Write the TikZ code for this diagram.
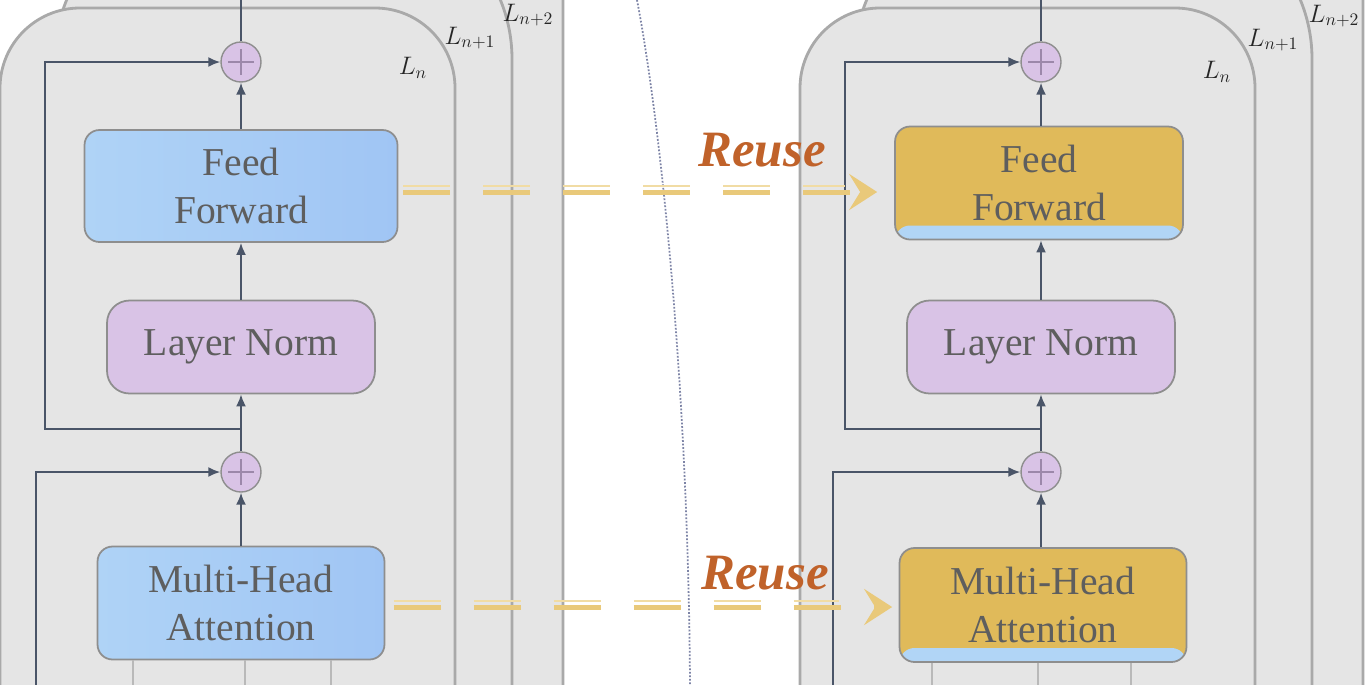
\documentclass[tikz,border=0pt]{standalone}
\usepackage{fontspec}
\setmainfont{Liberation Serif}
\usetikzlibrary{arrows.meta,positioning,calc}
\definecolor{PanelGray}{HTML}{E5E5E5}
\definecolor{PanelEdge}{HTML}{A9A9A9}
\definecolor{SoftBlueA}{HTML}{AFD3F6}
\definecolor{SoftBlueB}{HTML}{A0C5F4}
\definecolor{StripBlue}{HTML}{B1D5F6}
\definecolor{Lavender}{HTML}{D9C3E6}
\definecolor{PlusPurple}{HTML}{9C88AA}
\definecolor{ReuseGold}{HTML}{E0BA5A}
\definecolor{DashGold}{HTML}{E9C97A}
\definecolor{DashLight}{HTML}{F1DCA4}
\definecolor{ReuseBrown}{HTML}{C0622A}
\definecolor{FlowSlate}{HTML}{4A5568}
\definecolor{BoxEdge}{HTML}{8E8E8E}
\definecolor{TextGray}{HTML}{5E5E5E}
\definecolor{DotBlue}{HTML}{7D84A6}

\begin{document}
\begin{tikzpicture}[x=0.02cm,y=-0.02cm,>={Latex[length=0.24cm,width=0.2cm]},
  every node/.style={align=center, text=TextGray},
  panel/.style={fill=PanelGray, draw=PanelEdge, line width=1.6pt},
  block/.style={draw=BoxEdge, line width=1pt, rounded corners=0.3cm, font=\fontsize{22.5}{27}\selectfont, inner sep=0pt},
  newblock/.style={block, left color=SoftBlueA, right color=SoftBlueB},
  oldblock/.style={block, fill=ReuseGold, path picture={\fill[StripBlue] (path picture bounding box.south west) rectangle ([yshift=0.28cm]path picture bounding box.south east);}},
  normblock/.style={block, fill=Lavender, rounded corners=0.45cm, minimum width=5.36cm, minimum height=1.86cm},
  addnode/.style={circle, draw=BoxEdge, fill=Lavender, line width=0.8pt, minimum size=0.8cm, inner sep=0pt,
    path picture={\draw[PlusPurple, line width=0.6pt] ([xshift=-0.26cm]path picture bounding box.center) -- ([xshift=0.26cm]path picture bounding box.center) ([yshift=-0.26cm]path picture bounding box.center) -- ([yshift=0.26cm]path picture bounding box.center);}},
  layerlbl/.style={font=\fontsize{14}{16}\selectfont, text=black!85, inner sep=1pt},
  flow/.style={draw=FlowSlate, line width=1.1pt},
  tapline/.style={draw=gray!55, line width=1pt},
  reuse/.style={draw=DashGold, line width=0.1cm, dash pattern=on 0.94cm off 0.66cm},
  reusethin/.style={draw=DashLight, line width=0.045cm, dash pattern=on 0.94cm off 0.66cm},
  reusetip/.style={-{Stealth[length=0.56cm,width=0.72cm,inset=0.22cm,fill=DashGold]}},
  reusetxt/.style={font=\fontsize{29}{32}\selectfont\bfseries\itshape, text=ReuseBrown}]
\useasboundingbox (0,0) rectangle (1368,684);
\clip (0,0) rectangle (1368,684);
\fill[white] (0,0) rectangle (1368,684);

% stacked layers
\foreach \dx in {0,800} {
  \draw[panel, rounded corners=3cm] (\dx+105,780) -- (\dx+105,-150) -- (\dx+563,-150) -- (\dx+563,780);
  \draw[panel, rounded corners=3.1cm] (\dx+55,780) -- (\dx+55,-96) -- (\dx+512,-96) -- (\dx+512,780);
  \draw[panel, rounded corners=1.6cm] (\dx+0,780) -- (\dx+0,8) -- (\dx+455,8) -- (\dx+455,780);
}
\node[layerlbl] (lnL) at (413,68) {$L_n$};
\node[layerlbl] (lnaL) at (470,38) {$L_{n+1}$};
\node[layerlbl] (lnbL) at (528,15) {$L_{n+2}$};
\node[layerlbl] (lnR) at (1217,72) {$L_n$};
\node[layerlbl] (lnaR) at (1273,40) {$L_{n+1}$};
\node[layerlbl] (lnbR) at (1334,16) {$L_{n+2}$};

% divider
\draw[DotBlue, densely dotted, line width=1pt] (637,0) .. controls (660,120) and (688,380) .. (690,684);

% new layer (left)
\node[addnode] (addTL) at (241,62) {};
\node[newblock, minimum width=6.26cm, minimum height=2.24cm] (ffL) at (241,186) {Feed\\Forward};
\node[normblock] (normL) at (241,347) {Layer Norm};
\node[addnode] (addBL) at (241,472) {};
\node[newblock, minimum width=5.74cm, minimum height=2.26cm] (mhaL) at (241,603) {Multi-Head\\Attention};
\coordinate (resL) at (36,700);

\draw[flow] (addTL.north) -- ++(0,-70);
\draw[flow,->] (ffL.north) -- (addTL.south);
\draw[flow,->] (normL.north) -- (ffL.south);
\draw[flow,->] (addBL.north) -- (normL.south);
\draw[flow,->] (mhaL.north) -- (addBL.south);
\draw[flow,->] ([yshift=0.44cm]addBL.north) -- ++(-196,0) |- (addTL.west);
\draw[flow,->] (resL) |- (addBL.west);
\draw[tapline] ([xshift=-2.16cm]mhaL.south) -- ++(0,40);
\draw[tapline] ([xshift=0.08cm]mhaL.south) -- ++(0,40);
\draw[tapline] ([xshift=1.8cm]mhaL.south) -- ++(0,40);

% reused layer (right)
\node[addnode] (addTR) at (1041,62) {};
\node[oldblock, minimum width=5.76cm, minimum height=2.26cm] (ffR) at (1039,183) {Feed\\Forward};
\node[normblock] (normR) at (1041,347) {Layer Norm};
\node[addnode] (addBR) at (1041,472) {};
\node[oldblock, minimum width=5.74cm, minimum height=2.28cm] (mhaR) at (1043,605) {Multi-Head\\Attention};
\coordinate (resR) at (833,700);

\draw[flow] (addTR.north) -- ++(0,-70);
\draw[flow,->] (addTR.south |- ffR.north) -- (addTR.south);
\draw[flow,->] (normR.north) -- (addTR.south |- ffR.south);
\draw[flow,->] (addBR.north) -- (normR.south);
\draw[flow,->] (addBR.south |- mhaR.north) -- (addBR.south);
\draw[flow,->] ([yshift=0.44cm]addBR.north) -- ++(-196,0) |- (addTR.west);
\draw[flow,->] (resR) |- (addBR.west);
\draw[tapline] ([xshift=-2.22cm]mhaR.south) -- ++(0,40);
\draw[tapline] ([xshift=-0.1cm]mhaR.south) -- ++(0,40);
\draw[tapline] ([xshift=1.76cm]mhaR.south) -- ++(0,40);

% reuse arrows
\draw[reusethin, shorten <=0.1cm, shorten >=0.98cm] (ffL.east) -- (ffL.east -| ffR.west);
\draw[reuse, reusetip, shorten <=0.1cm, shorten >=0.34cm] ([yshift=-0.12cm]ffL.east) -- ([yshift=-0.12cm]ffL.east -| ffR.west);
\node[reusetxt] (reuseT) at (762,150) {Reuse};
\draw[reusethin, shorten <=0.17cm, shorten >=1.2cm] ([yshift=0.04cm]mhaL.east) -- ([yshift=0.04cm]mhaL.east -| mhaR.west);
\draw[reuse, reusetip, shorten <=0.17cm, shorten >=0.13cm] ([yshift=-0.08cm]mhaL.east) -- ([yshift=-0.08cm]mhaL.east -| mhaR.west);
\node[reusetxt] (reuseB) at (765,573) {Reuse};
\end{tikzpicture}
\end{document}
